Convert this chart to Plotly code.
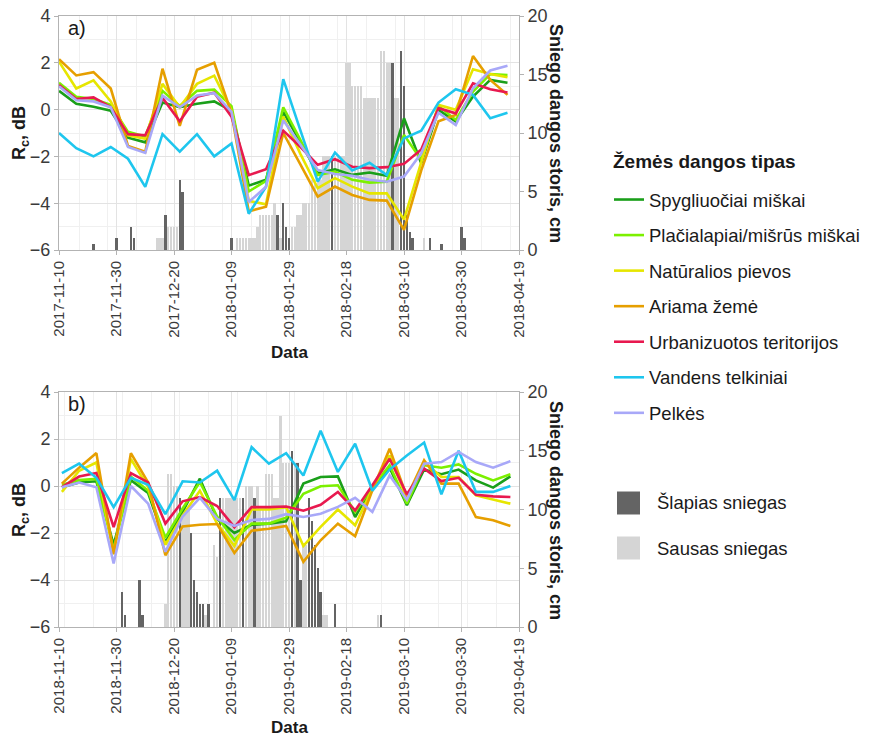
import pandas as pd
import plotly.graph_objects as go

# ---------------------------------------------------------------------------
# Land-cover classes and their line colours
# ---------------------------------------------------------------------------
land_cover = [
    "Spygliuočiai miškai",
    "Plačialapiai/mišrūs miškai",
    "Natūralios pievos",
    "Ariama žemė",
    "Urbanizuotos teritorijos",
    "Vandens telkiniai",
    "Pelkės",
]
legend_title = "Žemės dangos tipas"
line_colors = ["#1a9f1a", "#7cf000", "#e6e600", "#e69f00", "#e8194f", "#1ec6ee", "#a8a8f8"]

# Sentinel-1 acquisition dates (6-day repeat cycle)
dates_a = pd.date_range("2017-11-10", periods=27, freq="6D")
dates_b = pd.date_range("2018-11-11", periods=27, freq="6D")

# ---------------------------------------------------------------------------
# R_c, dB  -- winter 2017/2018 (panel a)
# ---------------------------------------------------------------------------
rc_a_spyg = [0.8, 0.25, 0.12, -0.05, -1.2, -1.4, 0.3, 0.1, 0.25, 0.35, -0.05, -3.25, -3.0, -0.1,
             -1.4, -2.72, -2.55, -2.79, -2.69, -2.83, -0.37, -2.29, -0.01, -0.51, 0.56, 1.27, 1.15]
rc_a_plac = [1.15, 0.55, 0.45, 0.2, -0.95, -1.15, 0.8, 0.15, 0.8, 0.85, 0.15, -3.5, -3.05, 0.1,
             -1.3, -2.8, -2.65, -3.0, -3.12, -3.08, -1.08, -2.15, 0.16, -0.44, 0.77, 1.52, 1.48]
rc_a_piev = [2.05, 0.9, 1.25, 0.35, -1.1, -1.25, 1.1, 0.1, 1.1, 1.45, -0.05, -3.9, -4.05, -0.3,
             -1.9, -3.36, -2.93, -3.29, -3.58, -3.58, -4.7, -2.3, 0.2, -0.01, 1.72, 1.52, 1.38]
rc_a_ariam = [2.15, 1.46, 1.6, 0.9, -1.55, -1.8, 1.75, -0.7, 1.7, 2.0, -0.15, -4.35, -4.15, -1.0,
              -2.35, -3.72, -3.29, -3.65, -3.86, -3.89, -5.14, -2.6, -0.5, -0.23, 2.29, 1.27, 0.63]
rc_a_urb = [1.05, 0.45, 0.52, 0.1, -1.05, -1.1, 0.5, -0.5, 0.55, 0.72, -0.3, -2.8, -2.55, -0.9,
            -1.6, -2.36, -2.12, -2.44, -2.5, -2.46, -2.32, -1.7, 0.06, -0.16, 1.12, 0.87, 0.73]
rc_a_vand = [-1.0, -1.65, -2.0, -1.6, -2.1, -3.3, -1.05, -1.8, -1.05, -2.0, -1.45, -4.45, -3.3, 1.3,
             -0.9, -3.08, -1.84, -2.6, -2.27, -2.8, -1.23, -0.9, 0.3, 0.87, 0.63, -0.37, -0.13]
rc_a_pelk = [1.0, 0.4, 0.35, 0.1, -1.6, -1.85, 0.6, 0.1, 0.6, 0.7, -0.1, -3.95, -3.3, -0.45,
             -1.5, -2.58, -2.75, -2.83, -3.0, -3.08, -2.86, -1.87, -0.13, -0.66, 0.91, 1.67, 1.87]

# ---------------------------------------------------------------------------
# R_c, dB  -- winter 2018/2019 (panel b)
# ---------------------------------------------------------------------------
rc_b_spyg = [-0.05, 0.15, 0.2, -2.5, 0.25, -0.3, -2.4, -1.1, 0.31, -1.4, -2.0, -1.65, -1.6, -1.5,
             0.1, 0.38, 0.41, -1.32, -0.04, 0.78, -0.82, 0.7, 0.5, 0.7, 0.24, -0.07, 0.41]
rc_b_plac = [0.05, 0.25, 0.3, -2.7, 0.4, -0.2, -2.2, -0.96, 0.17, -1.3, -2.3, -1.6, -1.6, -1.35,
             -0.33, -0.01, 0.03, -1.1, -0.04, 0.88, -0.75, 0.88, 0.78, 0.92, 0.52, 0.24, 0.5]
rc_b_piev = [-0.25, 0.65, 1.0, -2.9, 1.15, -0.05, -2.5, -1.25, -0.2, -1.6, -2.55, -1.0, -1.0, -0.9,
             -2.55, -1.74, -1.0, -1.67, -0.11, 1.3, -0.54, 1.02, 0.38, 0.38, -0.4, -0.58, -0.75]
rc_b_ariam = [0.1, 0.78, 1.4, -2.9, 1.4, 0.15, -2.95, -1.72, -1.65, -1.62, -2.85, -1.9, -1.82, -1.7,
              -3.23, -2.31, -1.6, -2.14, -0.18, 1.59, -0.47, 1.09, 0.1, 0.1, -1.32, -1.46, -1.7]
rc_b_urb = [-0.05, 0.4, 0.55, -1.75, 0.55, 0.15, -1.6, -0.65, -0.47, -0.85, -1.75, -0.9, -0.9, -0.87,
            -1.05, -0.8, -0.25, -1.04, 0.03, 1.16, -0.35, 0.74, 0.21, 0.35, -0.37, -0.44, -0.47]
rc_b_vand = [0.55, 0.95, 0.35, -0.9, 0.35, 0.05, -1.2, 0.2, 0.15, 0.65, -0.6, 1.65, 0.95, 1.4,
             0.45, 2.35, 0.6, 1.8, -0.2, 0.7, 1.3, 1.85, -0.35, 1.5, -0.25, -0.25, 0.0]
rc_b_pelk = [-0.05, 0.15, -0.05, -3.3, 0.0, -0.75, -2.8, -1.3, -0.5, -1.4, -1.7, -1.45, -1.4, -1.2,
             -1.32, -1.18, -0.89, -0.5, -1.1, 0.45, -0.58, 0.95, 1.02, 1.45, 1.02, 0.78, 1.06]

rc_a = [rc_a_spyg, rc_a_plac, rc_a_piev, rc_a_ariam, rc_a_urb, rc_a_vand, rc_a_pelk]
rc_b = [rc_b_spyg, rc_b_plac, rc_b_piev, rc_b_ariam, rc_b_urb, rc_b_vand, rc_b_pelk]

# ---------------------------------------------------------------------------
# Daily snow depth, cm (day number counted from the season's first date)
# ---------------------------------------------------------------------------
season_a_start = pd.Timestamp("2017-11-10")
season_b_start = pd.Timestamp("2018-11-10")

dry_a_days = [34, 35, 36, 38, 39, 40, 41, 62, 63, 64, 65, 66, 67, 68, 69, 70, 71, 72, 73, 74, 75, 77,
              81, 82, 83, 84, 85, 86, 87, 88, 89, 90, 91, 92, 93, 94, 96, 97, 98, 99, 100, 101,
              102, 103, 104, 105, 106, 107, 108, 109, 110, 111, 112, 113, 114, 115, 117, 118, 127]
dry_a_cm = [1, 1, 1, 2, 2, 2, 2, 1, 1, 1, 1, 1, 1, 1, 2, 3, 3, 3, 3, 3, 4, 1,
            2, 2, 3, 3, 4, 4, 4, 6, 6, 6, 6, 8, 8, 8, 8, 8, 8, 8, 16, 16,
            14, 14, 14, 14, 13, 13, 13, 13, 13, 13, 17, 17, 16, 16, 13, 13, 1]
wet_a_days = [12, 20, 25, 26, 37, 42, 43, 60, 76, 78, 79, 80, 95, 116, 119, 120, 121, 122, 123,
              129, 133, 140, 141]
wet_a_cm = [0.5, 1, 2, 1, 3, 6, 5, 1, 3, 4, 2, 1, 8, 16, 17, 14, 3, 1.5, 1, 1, 0.5, 2, 1]

dry_b_days = [37, 38, 39, 40, 41, 43, 44, 45, 51, 54, 55, 57, 58, 59, 60, 61, 62, 63, 65, 66, 67, 69,
              70, 71, 72, 73, 74, 75, 76, 77, 78, 79, 80, 82, 85, 86, 92, 93, 111]
dry_b_cm = [2, 13, 13, 12, 12, 10, 10, 10, 1, 7, 6, 11, 11, 11, 11, 11, 11, 11, 12, 12, 12, 12,
            10, 10, 13, 13, 13, 11, 11, 18, 14, 14, 14, 14, 7, 7, 1, 1, 1]
wet_b_days = [22, 23, 28, 29, 42, 46, 47, 48, 49, 50, 52, 56, 64, 68, 81, 83, 84, 87, 88, 89, 90,
              91, 96, 112]
wet_b_cm = [3, 1, 4, 1, 11, 8, 4, 3, 2, 2, 2, 11, 11, 11, 15, 14, 4, 11, 9, 7, 5, 3, 2, 1]

snow_labels = ["Šlapias sniegas", "Sausas sniegas"]
wet_color = "#646464"
dry_color = "#d5d5d5"

# ---------------------------------------------------------------------------
# Styling
# ---------------------------------------------------------------------------
FONT = "Liberation Sans, Arial, sans-serif"
GRID = "#e3e3e3"
GRID_MINOR = "#f0f0f0"
BORDER = "#b3b3b3"
TICK_TXT = "#3a3a3a"
TXT = "#1a1a1a"
DAY_MS = 86400000
BAR_W = 0.8 * DAY_MS

# plot area: 460 px wide, 611 px tall (paper coords)
dom_a = [1 - 234 / 611, 1.0]
dom_b = [0.0, 235 / 611]


def px_x(p):
    return (p - 59) / 460


def px_y(p):
    return (627 - p) / 611


def day_dates(start, days):
    return [start + pd.Timedelta(days=d) for d in days]


fig = go.Figure()

# snow bars (base axes, right side)
for start, dry_d, dry_v, wet_d, wet_v, xa, ya in [
    (season_a_start, dry_a_days, dry_a_cm, wet_a_days, wet_a_cm, "x", "y"),
    (season_b_start, dry_b_days, dry_b_cm, wet_b_days, wet_b_cm, "x2", "y3"),
]:
    fig.add_trace(go.Bar(x=day_dates(start, dry_d), y=dry_v, width=BAR_W, name=snow_labels[1],
                         marker=dict(color=dry_color, line=dict(width=0)),
                         xaxis=xa, yaxis=ya, showlegend=False))
    fig.add_trace(go.Bar(x=day_dates(start, wet_d), y=wet_v, width=BAR_W, name=snow_labels[0],
                         marker=dict(color=wet_color, line=dict(width=0)),
                         xaxis=xa, yaxis=ya, showlegend=False))

# R_c lines (overlaid axes, left side)
for i, name in enumerate(land_cover):
    fig.add_trace(go.Scatter(x=dates_a, y=rc_a[i], mode="lines", name=name,
                             line=dict(color=line_colors[i], width=2.6),
                             xaxis="x", yaxis="y2", legendgroup=name, showlegend=True))
    fig.add_trace(go.Scatter(x=dates_b, y=rc_b[i], mode="lines", name=name,
                             line=dict(color=line_colors[i], width=2.6),
                             xaxis="x2", yaxis="y4", legendgroup=name, showlegend=False))

common_x = dict(
    type="date", tickformat="%Y-%m-%d", tickangle=-90, dtick=20 * DAY_MS,
    showgrid=True, gridcolor=GRID, gridwidth=1,
    minor=dict(dtick=10 * DAY_MS, showgrid=True, gridcolor=GRID_MINOR, gridwidth=0.7),
    showline=True, mirror=True, linecolor=BORDER, linewidth=1,
    ticks="outside", ticklen=4, tickcolor=BORDER,
    tickfont=dict(size=15, color=TICK_TXT), zeroline=False, domain=[0, 1],
)
snow_y = dict(side="right", range=[0, 20], dtick=5, tick0=0, showgrid=False,
              showline=True, linecolor=BORDER, linewidth=1, ticks="outside", ticklen=4,
              tickcolor=BORDER, tickfont=dict(size=18, color=TICK_TXT), zeroline=False)
rc_y = dict(side="left", range=[-6, 4], dtick=2, tick0=0, showgrid=True, gridcolor=GRID,
            gridwidth=1, minor=dict(dtick=1, showgrid=True, gridcolor=GRID_MINOR, gridwidth=0.7),
            showline=True, linecolor=BORDER, linewidth=1, ticks="outside", ticklen=4,
            tickcolor=BORDER, tickfont=dict(size=18, color=TICK_TXT), zeroline=False)

fig.update_layout(
    width=874, height=738,
    margin=dict(l=59, r=355, t=16, b=111, autoexpand=False),
    paper_bgcolor="white", plot_bgcolor="white",
    font=dict(family=FONT, color=TXT),
    barmode="overlay", bargap=0,
    xaxis=dict(common_x, anchor="y", range=["2017-11-10", "2018-04-19"], tick0="2017-11-10"),
    xaxis2=dict(common_x, anchor="y3", range=["2018-11-10", "2019-04-19"], tick0="2018-11-10"),
    yaxis=dict(snow_y, domain=dom_a, anchor="x"),
    yaxis2=dict(rc_y, overlaying="y", anchor="x"),
    yaxis3=dict(snow_y, domain=dom_b, anchor="x2"),
    yaxis4=dict(rc_y, overlaying="y3", anchor="x2"),
    legend=dict(
        x=px_x(609), y=px_y(181), xanchor="left", yanchor="top",
        font=dict(size=18.5, color=TXT), tracegroupgap=8.5,
        bgcolor="rgba(0,0,0,0)", itemwidth=30,
    ),
    showlegend=True,
)

annotations = []
title_font = dict(family=FONT, size=18, color=TXT)
for yc in (133, 510):
    annotations.append(dict(text="<b>R<sub>c</sub>, dB</b>", x=px_x(20), y=px_y(yc),
                            xref="paper", yref="paper", textangle=-90, showarrow=False,
                            xanchor="center", yanchor="middle", font=title_font))
    annotations.append(dict(text="<b>Sniego dangos storis, cm</b>", x=px_x(556), y=px_y(yc),
                            xref="paper", yref="paper", textangle=90, showarrow=False,
                            xanchor="center", yanchor="middle", font=title_font))
for yc in (352, 727):
    annotations.append(dict(text="<b>Data</b>", x=0.5, y=px_y(yc), xref="paper", yref="paper",
                            showarrow=False, xanchor="center", yanchor="middle",
                            font=dict(family=FONT, size=17, color=TXT)))
for label, yc in (("a)", 28), ("b)", 404)):
    annotations.append(dict(text=label, x=px_x(66), y=px_y(yc), xref="paper", yref="paper",
                            showarrow=False, xanchor="left", yanchor="middle",
                            font=dict(family=FONT, size=20, color=TXT)))

# legend heading for the land-cover lines
annotations.append(dict(text=f"<b>{legend_title}</b>", x=px_x(611), y=px_y(161),
                        xref="paper", yref="paper", showarrow=False,
                        xanchor="left", yanchor="middle",
                        font=dict(family=FONT, size=19, color=TXT)))

# snow legend keys
shapes = []
for label, color, yc in ((snow_labels[0], wet_color, 503), (snow_labels[1], dry_color, 548)):
    shapes.append(dict(type="rect", xref="paper", yref="paper",
                       x0=px_x(617), x1=px_x(640), y0=px_y(yc + 11.5), y1=px_y(yc - 11.5),
                       fillcolor=color, line=dict(width=0)))
    annotations.append(dict(text=label, x=px_x(655), y=px_y(yc), xref="paper", yref="paper",
                            showarrow=False, xanchor="left", yanchor="middle",
                            font=dict(family=FONT, size=18.5, color=TXT)))

fig.update_layout(annotations=annotations, shapes=shapes)

fig.write_html("out.html")
